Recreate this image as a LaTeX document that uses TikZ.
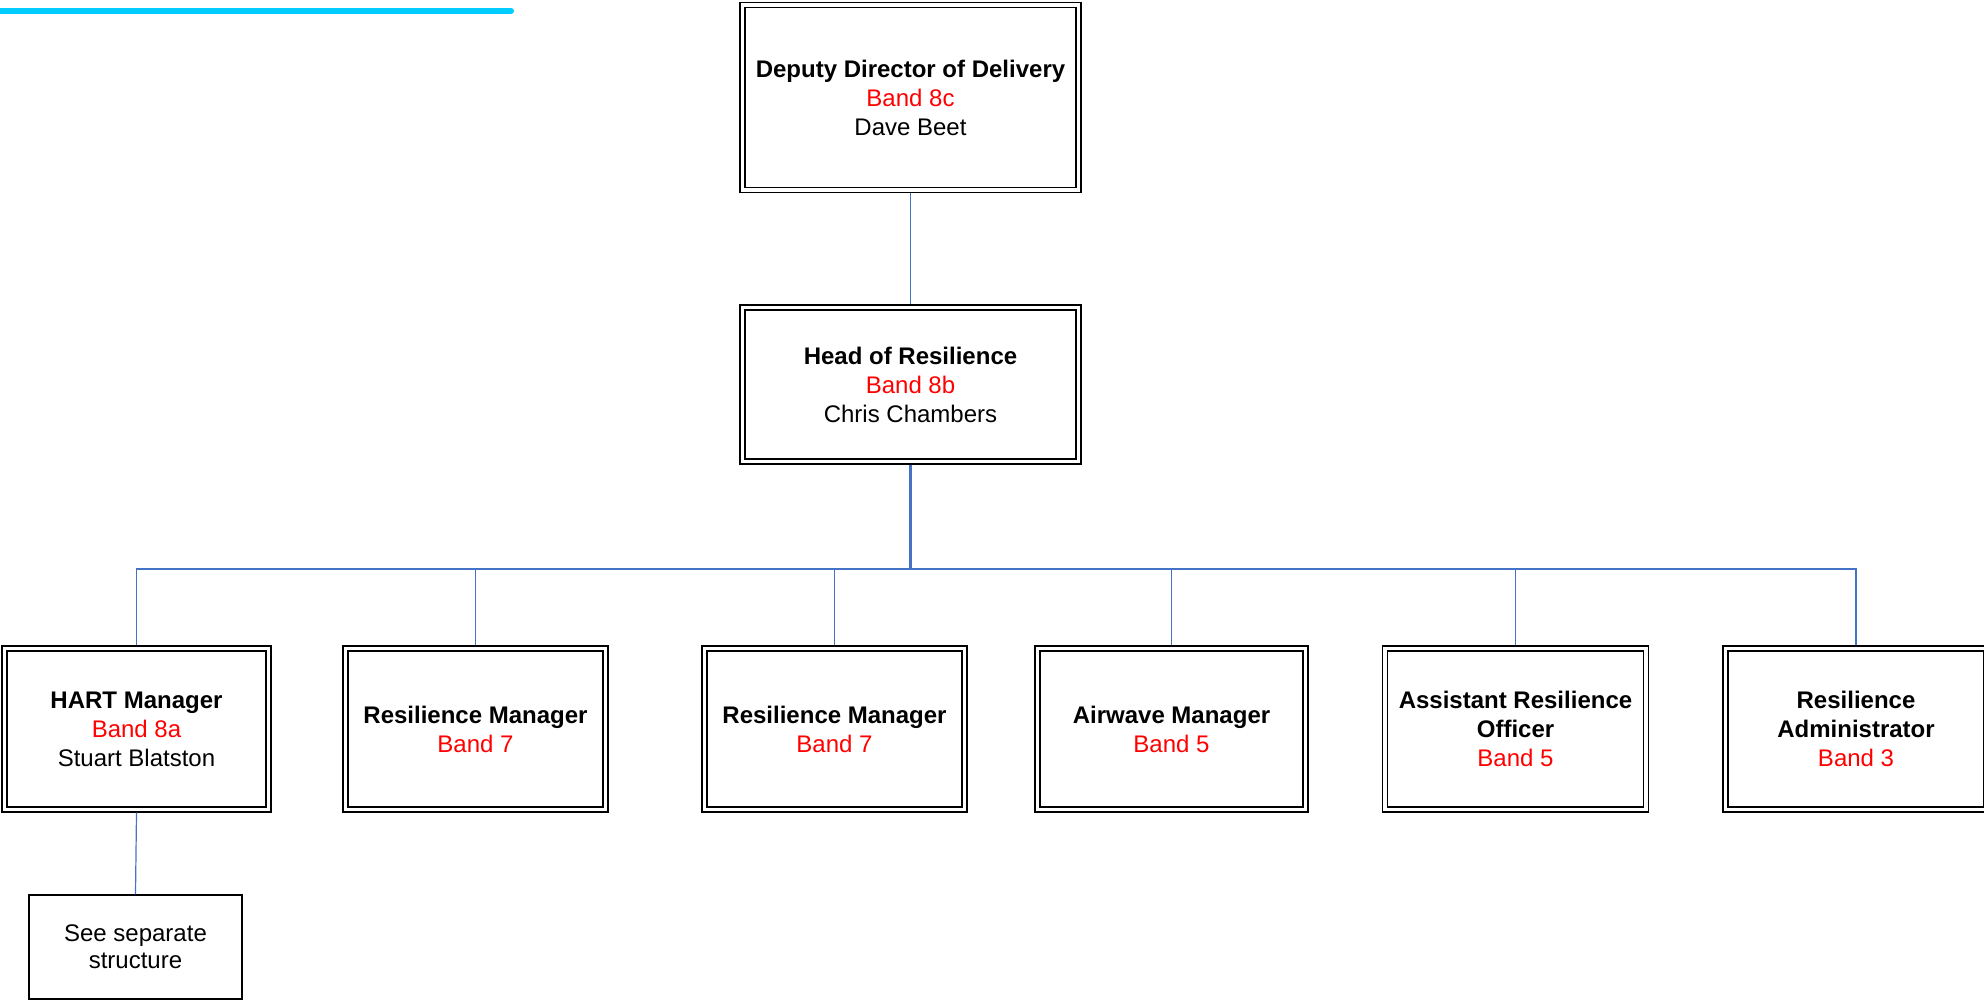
\documentclass[tikz,border=0pt]{standalone}
\usepackage{fontspec}
\setmainfont{Liberation Sans}
\usepackage{tikz}
\usetikzlibrary{calc}
\definecolor{linkblue}{HTML}{4472C4}
\definecolor{barcyan}{HTML}{00CCFF}
\tikzset{post/.style={
    draw=black, line width=0.6pt, double=white, double distance=1.9pt,
    fill=white, inner sep=0pt, outer sep=1.55pt, align=center,
    font=\fontsize{12}{14.5}\selectfont,
    minimum height=80.5pt, #1
  },
  note/.style={
    draw=black, line width=0.6pt, fill=white, inner sep=0pt, align=center,
    font=\fontsize{12}{13.5}\selectfont,
    minimum width=106.5pt, minimum height=52pt
  },
  link/.style={
    draw=linkblue, line width=0.6pt
  }
}
\newcommand{\band}[1]{\textcolor{red}{Band #1}}

\begin{document}
\begin{tikzpicture}[x=0.5pt,y=-0.5pt]
  \useasboundingbox (0,0) rectangle (1984,1001);

  % -- The bar at the top left.
  \draw[barcyan, line width=3pt, line cap=round] (-10,11) -- (511,11);

  % -- The posts.
  \node[post={minimum width=168pt, minimum height=92.5pt}] (deputy) at (910.5,97.5)
    {\textbf{Deputy Director of Delivery}\\\band{8c}\\Dave Beet};
  \node[post={minimum width=168pt, minimum height=77pt}] (head) at (910.5,384.5)
    {\textbf{Head of Resilience}\\\band{8b}\\Chris Chambers};
  \node[post={minimum width=132pt}] (hart) at (136.5,729)
    {\textbf{HART Manager}\\\band{8a}\\Stuart Blatston};
  \node[post={minimum width=130pt}] (resmgrA) at (475.5,729)
    {\textbf{Resilience Manager}\\\band{7}};
  \node[post={minimum width=130pt}] (resmgrB) at (834.5,729)
    {\textbf{Resilience Manager}\\\band{7}};
  \node[post={minimum width=134pt}] (airwave) at (1171.5,729)
    {\textbf{Airwave Manager}\\\band{5}};
  \node[post={minimum width=130.5pt}] (assistant) at (1515.5,729)
    {\textbf{Assistant Resilience}\\\textbf{Officer}\\\band{5}};
  \node[post={minimum width=130.5pt}] (admin) at (1856,729)
    {\textbf{Resilience}\\\textbf{Administrator}\\\band{3}};
  \node[note] (separate) at (135.5,947) {See separate\\structure};

  % -- The lines between them.
  \coordinate (bus) at (910.5,569);
  \draw[link] (deputy.south) -- (head.north);
  \draw[link, line width=1.1pt] (head.south) -- (bus);
  \draw[link] (hart.north) -- (hart.north |- bus) -- (admin.north |- bus) -- (admin.north);
  \foreach \post in {resmgrA,resmgrB,airwave,assistant}
    \draw[link] (\post.north) -- (\post.north |- bus);
  \draw[link] (hart.south) -- (separate.north);
\end{tikzpicture}
\end{document}
